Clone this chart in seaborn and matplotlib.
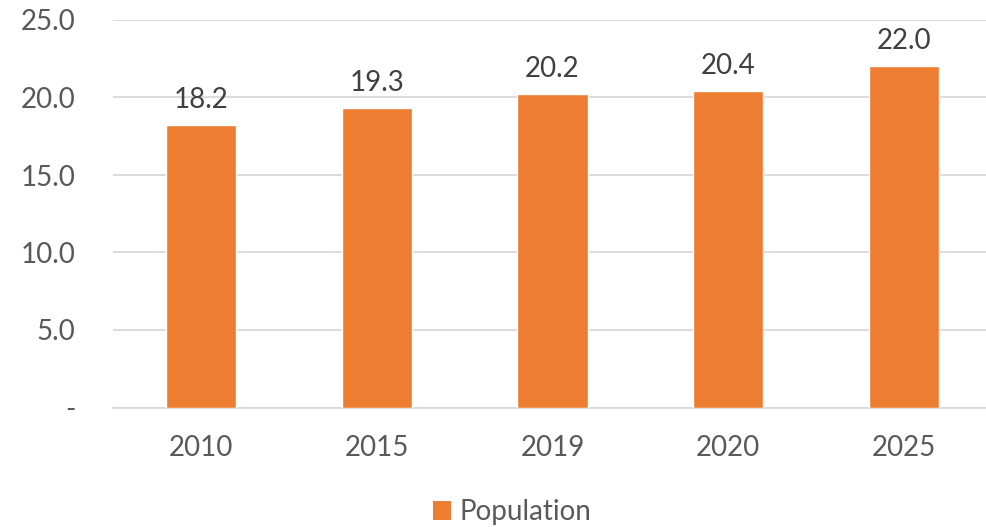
import matplotlib
matplotlib.use("Agg")
import matplotlib.pyplot as plt
from matplotlib.patches import Patch
from matplotlib.ticker import FixedLocator, FuncFormatter
import seaborn as sns
import pandas as pd

# Population by year
years = ["2010", "2015", "2019", "2020", "2025"]
population = [18.2, 19.3, 20.2, 20.4, 22.0]
y_ticks = [0, 5, 10, 15, 20, 25]
series_name = "Population"

BAR_COLOR = "#ED7D31"
TEXT_COLOR = "#595959"
GRID_COLOR = "#D9D9D9"

sns.set_theme(style="white")
plt.rcParams["font.family"] = ["Lato", "DejaVu Sans"]

df = pd.DataFrame({"year": years, "population": population})

fig = plt.figure(figsize=(9.86, 5.27), dpi=100)
ax = fig.add_axes([113 / 986, 119.5 / 527, 879 / 986, 387.5 / 527])

sns.barplot(data=df, x="year", y="population", color=BAR_COLOR,
            saturation=1, width=0.4, ax=ax, zorder=3)

ax.set_ylim(0, 25)
ax.set_xlim(-0.5, len(years) - 0.5)
ax.yaxis.set_major_locator(FixedLocator(y_ticks))
ax.yaxis.set_major_formatter(FuncFormatter(lambda v, _: "-" if v == 0 else f"{v:.1f}"))
ax.grid(axis="y", color=GRID_COLOR, linewidth=1.3, zorder=0)
ax.set_axisbelow(True)

for side in ["top", "right", "left"]:
    ax.spines[side].set_visible(False)
ax.spines["bottom"].set_color(GRID_COLOR)
ax.spines["bottom"].set_linewidth(1.3)

ax.tick_params(axis="both", length=0, labelsize=20, labelcolor=TEXT_COLOR)
ax.tick_params(axis="y", pad=27)
ax.tick_params(axis="x", pad=20)
ax.set_xlabel("")
ax.set_ylabel("")

for container in ax.containers:
    ax.bar_label(container, fmt="%.1f", padding=9, fontsize=20, color="#404040")

handle = Patch(facecolor=BAR_COLOR, edgecolor="none", label=series_name)
fig.legend(handles=[handle], loc="center", bbox_to_anchor=(512 / 986, 15 / 527),
           frameon=False, fontsize=20, labelcolor=TEXT_COLOR,
           handlelength=0.65, handleheight=0.65, handletextpad=0.3)

fig.savefig("out.png", dpi=100)
